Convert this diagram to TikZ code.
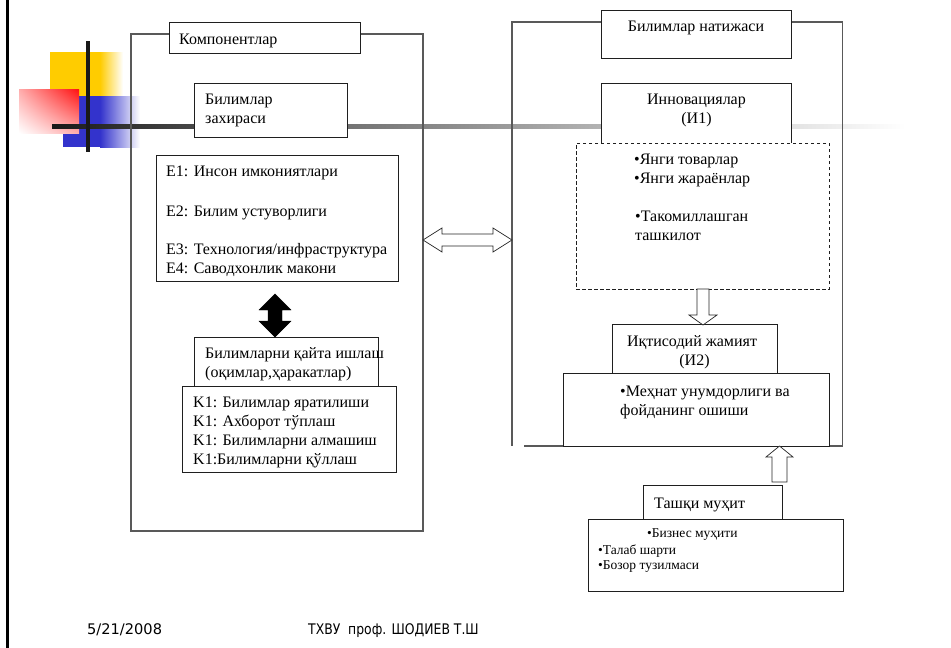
\documentclass[tikz,border=0pt]{standalone}
\usepackage{fontspec}
\setmainfont{Liberation Serif}
\newfontfamily\footfont{DejaVu Sans}
\newfontfamily\authfont[FakeStretch=0.85]{DejaVu Sans}
\usetikzlibrary{calc,shadings}
\definecolor{yc}{HTML}{FFCC00}
\definecolor{bc}{HTML}{3333CC}
\definecolor{rc}{HTML}{FF1010}
\tikzset{
  bx/.style={draw=black!88, line width=0.8pt, fill=white, inner sep=0pt, outer sep=0pt, anchor=north west},
  obx/.style={draw=black!65, line width=1.1pt, inner sep=0pt, outer sep=0pt, anchor=north west},
  dbx/.style={bx, dashed, dash pattern=on 3.5pt off 2.5pt},
  tx/.style={inner sep=0pt, anchor=base west, font=\fontsize{16}{19}\selectfont},
  tc/.style={tx, anchor=base},
  tbig/.style={tx, font=\fontsize{16}{19}\selectfont},
  tsm/.style={tx, font=\fontsize{13.5}{16}\selectfont},
  tft/.style={inner sep=0pt, anchor=base west, font=\footfont\fontsize{14.6}{17}\selectfont},
  tau/.style={tft, font=\authfont\fontsize{14.6}{17}\selectfont},
  harrow/.style={draw=black!85, line width=0.7pt, fill=white, line join=miter},
  barrow/.style={fill=black, draw=black, line width=0.4pt},
}
\newcommand\bbox[6][bx]{\node[#1, minimum width=#5-#3, minimum height=#6-#4] (#2) at (#3,#4) {};}
\begin{document}
\begin{tikzpicture}[x=1pt,y=-1pt]
\useasboundingbox (0,0) rectangle (951,648);
\fill[white] (0,0) rectangle (951,648);
% left slide rule
\fill[black] (5.5,0) rectangle (8.5,648);
% logo
\fill[yc] (50,52) rectangle (100,97);
\shade[left color=yc, right color=white] (100,52) rectangle (123,97);
\fill[bc] (63,96) rectangle (100,147);
\shade[left color=bc, right color=white] (100,96) rectangle (140,147);
\shade[upper right=rc, upper left=rc!35, lower right=rc!35, lower left=white] (19,89) rectangle (79,133);
\shade[left color=black!90, right color=black!72] (52,124) rectangle (194,128);
\shade[left color=black!70, right color=white] (194,124) rectangle (905,128);
\fill[black!90] (86,41) rectangle (90,152);

% ---- left group
\bbox[obx]{lout}{131}{34}{423}{531}
\bbox{komp}{169}{22}{360}{53}
\node[tx] (kompt) at (179,44) {Компонентлар};
\bbox{zax}{194}{83}{347}{137}
\node[tx] (zax1) at (205,104.5) {Билимлар};
\node[tx] (zax2) at (205,123) {захираси};
\bbox{eb}{156}{155}{398}{281}
\node[tx] (e1) at (166,176.7) {E1: Инсон имкониятлари};
\node[tx] (e2) at (166,216) {E2: Билим устуворлиги};
\node[tx] (e3) at (166,254.3) {E3: Технология/инфраструктура};
\node[tx] (e4) at (166,273.3) {E4: Саводхонлик макони};
\bbox{kq}{194}{337}{378}{386}
\node[tx] (kq1) at (205,358) {Билимларни қайта ишлаш};
\node[tx] (kq2) at (205,377) {(оқимлар,ҳаракатлар)};
\bbox{kb}{182}{386}{396}{472}
\node[tx] (k1) at (193,407.5) {K1: Билимлар яратилиши};
\node[tx] (k2) at (193,426.5) {K1: Ахборот тўплаш};
\node[tx] (k3) at (193,445.5) {K1: Билимларни алмашиш};
\node[tx] (k4) at (193,464.5) {K1:Билимларни қўллаш};
% black double arrow
\draw[barrow] ($(kq.north)+(-11,0)$) -- ++(-16,-16) -- ++(9,0) -- ++(0,-11) -- ++(-9,0)
  -- ++(16,-16) -- ++(16,16) -- ++(-9,0) -- ++(0,11) -- ++(9,0) -- cycle;

% ---- right group
\draw[draw=black!65, line width=1.1pt] (524,446) -- (842.5,446) -- (842.5,22) -- (512,22) -- (512,446);
\bbox{nat}{601}{10}{791}{58}
\node[tc] (natt) at (696,31.7) {Билимлар натижаси};
\bbox{inn}{601}{83}{791}{150}
\node[tc] (inn1) at (696.5,104) {Инновациялар};
\node[tc] (inn2) at (696.5,123.5) {(И1)};
\bbox[dbx]{dash}{576}{143}{829}{289}
\node[tx] (d1) at (634,164) {•Янги товарлар};
\node[tx] (d2) at (634,183.3) {•Янги жараёнлар};
\node[tx] (d3) at (635,221.7) {•Такомиллашган};
\node[tx] (d4) at (635,240.7) {ташкилот};
\bbox{iq}{612}{324}{777}{373}
\node[tc] (iq1) at (692,346.7) {Иқтисодий жамият};
\node[tc] (iq2) at (694.5,365) {(И2)};
\bbox{meh}{563}{373}{829}{446}
\node[tx] (m1) at (620,396.7) {•Меҳнат унумдорлиги ва};
\node[tx] (m2) at (620,415) {фойданинг ошиши};
\bbox{tash}{643}{485}{782}{519}
\node[tbig] (tasht) at (654,508.3) {Ташқи муҳит};
\bbox{env}{588}{519}{843}{591}
\node[tsm] (b1) at (647,537.3) {•Бизнес муҳити};
\node[tsm] (b2) at (598,554) {•Талаб шарти};
\node[tsm] (b3) at (598,569.3) {•Бозор тузилмаси};

% hollow arrows
\coordinate (dl) at ($(lout.east)+(0,-42.5)$);
\draw[harrow] (dl) -- ++(19,-12) -- ++(0,6) -- ++(51,0) -- ++(0,-6) -- ++(19,12)
  -- ++(-19,12) -- ++(0,-6) -- ++(-51,0) -- ++(0,6) -- cycle;
\draw[harrow] ($(dash.south)+(-5.5,0)$) -- ++(0,26) -- ++(-8,0) -- ++(14,10) -- ++(14,-10)
  -- ++(-8,0) -- ++(0,-26) -- cycle;
\draw[harrow] ($(tash.north east)+(-10,-3)$) -- ++(0,-25) -- ++(-6,0) -- ++(13.5,-11) -- ++(13.5,11)
  -- ++(-6,0) -- ++(0,25) -- cycle;

% footer
\node[tft] (date) at (87,634) {5/21/2008};
\node[tau] (auth) at (308,634) {ТХВУ\ \ проф. ШОДИЕВ Т.Ш};
\end{tikzpicture}
\end{document}
